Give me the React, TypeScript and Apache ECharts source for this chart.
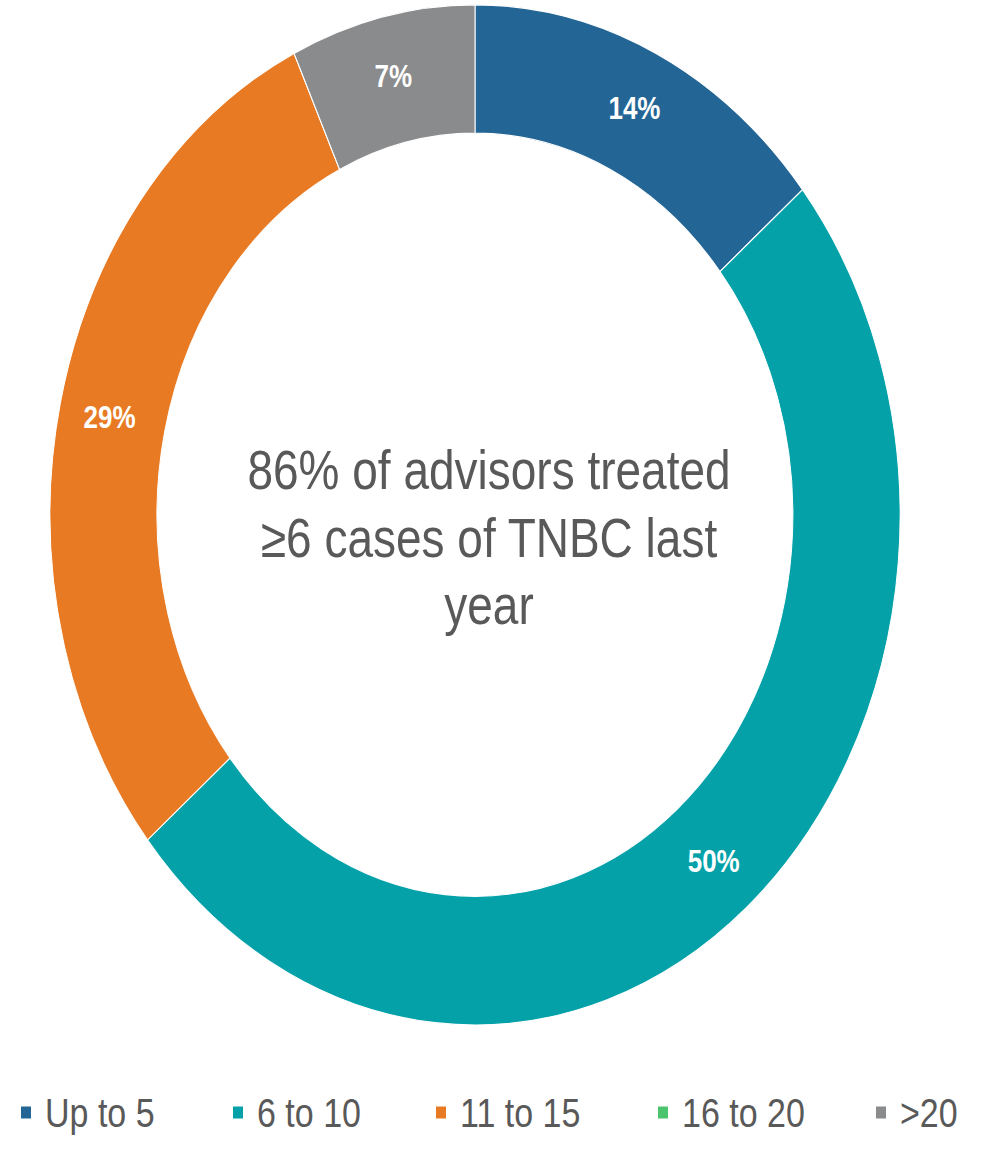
import React, { useEffect, useRef } from "react";
import * as echarts from "echarts";

const categories = ["Up to 5", "6 to 10", "11 to 15", "16 to 20", ">20"];
const values = [14, 50, 29, 0, 7];
const colors = ["#236595", "#04A1A9", "#E87A24", "#4CC46E", "#8A8B8D"];
const centerText = ["86% of advisors treated", "≥6 cases of TNBC last", "year"];
const legendLefts = [19, 231, 434, 656, 874];

export default function App() {
  const ref = useRef<HTMLDivElement>(null);
  useEffect(() => {
    if (!ref.current) return;
    const chart = echarts.init(ref.current, null, { renderer: "svg" });
    chart.setOption({
      animation: false,
      color: colors,
      legend: categories.map((c, i) => ({
        data: [c],
        orient: "horizontal",
        left: legendLefts[i],
        top: 910,
        icon: "rect",
        itemWidth: 12,
        itemHeight: 12,
        padding: 0,
        textStyle: {
          fontFamily: "Liberation Sans, Arial, sans-serif",
          fontSize: 34,
          color: "#595959",
          padding: [0, 0, 0, 8],
        },
      })),
      graphic: [
        {
          type: "text",
          x: 489,
          y: 448,
          style: {
            text: centerText.join("\n"),
            fontFamily: "Liberation Sans, Arial, sans-serif",
            fontSize: 46,
            lineHeight: 56,
            fill: "#595959",
            align: "center",
            verticalAlign: "middle",
          },
        },
      ],
      series: [
        {
          type: "pie",
          center: [475, 429],
          radius: [318, 425],
          startAngle: 90,
          clockwise: true,
          data: categories.map((c, i) => ({ name: c, value: values[i] })),
          itemStyle: { borderColor: "#ffffff", borderWidth: 1 },
          label: {
            show: true,
            position: "inside",
            color: "#ffffff",
            fontFamily: "Liberation Sans, Arial, sans-serif",
            fontSize: 26,
            fontWeight: "bold",
            formatter: (p: any) => (p.value > 0 ? p.value + "%" : ""),
          },
          labelLine: { show: false },
          emphasis: { disabled: true },
        },
      ],
    });
    return () => chart.dispose();
  }, []);
  return (
    <div
      style={{
        position: "absolute",
        left: 0,
        top: 0,
        width: 982,
        height: 960,
        transform: "scaleY(1.2)",
        transformOrigin: "top left",
        background: "#ffffff",
      }}
    >
      <div ref={ref} style={{ width: 982, height: 960 }} />
    </div>
  );
}
